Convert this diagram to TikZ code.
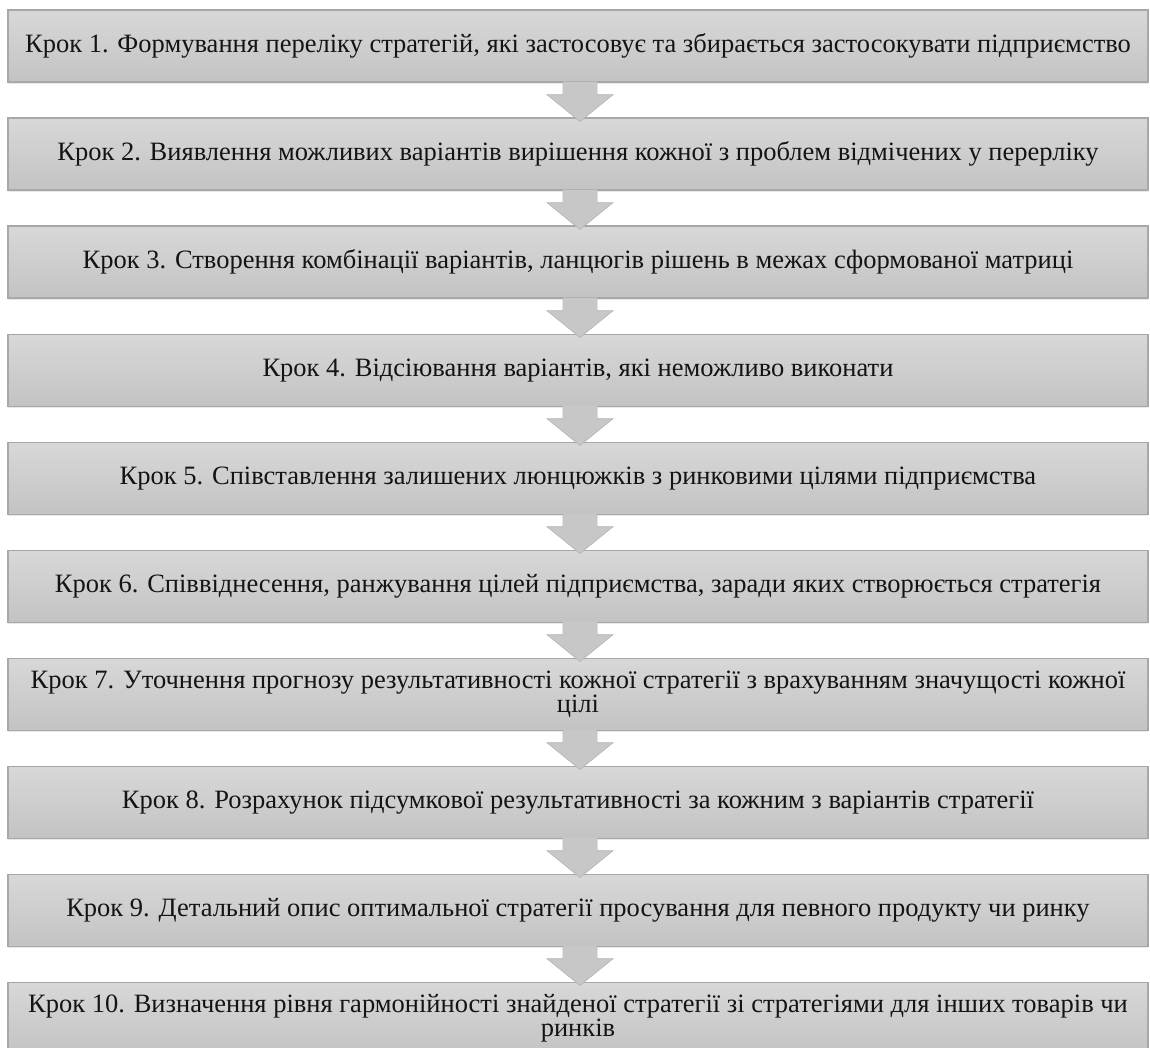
\documentclass[tikz,border=0pt]{standalone}
\usepackage{fontspec}
\setmainfont{Liberation Serif}
\usetikzlibrary{calc,shadows}
\definecolor{boxtop}{HTML}{D8D8D8}
\definecolor{boxbot}{HTML}{C3C3C3}
\definecolor{boxline}{HTML}{A8A8A8}
\definecolor{arrowfill}{HTML}{C7C7C7}
\definecolor{arrowline}{HTML}{B4B4B4}
\definecolor{txt}{HTML}{141414}
\begin{document}
\begin{tikzpicture}[x=1pt,y=1pt,
  stepbox/.style={draw=boxline, line width=1.2pt,
    top color=boxtop, bottom color=boxbot,
    drop shadow={opacity=0.18, shadow xshift=0pt, shadow yshift=-1.5pt},
    minimum width=1140pt, minimum height=72pt, inner sep=0pt,
    align=center, font=\fontsize{26.5}{23}\selectfont, text=txt, anchor=north},
  blockarrow/.style={fill=arrowfill, draw=arrowline, line width=0.6pt, line join=miter}]
\clip (0,0) rectangle (1150,-1048);
\fill[white] (0,0) rectangle (1150,-1048);

% process steps, top to bottom
\node[stepbox] (s1)  at (578,-9.5)   {Крок 1. Формування переліку стратегій, які застосовує та збирається застосокувати підприємство};
\node[stepbox] (s2)  at (578,-117.5) {Крок 2. Виявлення можливих варіантів вирішення кожної з проблем відмічених у перерліку};
\node[stepbox] (s3)  at (578,-225.5) {Крок 3. Створення комбінації варіантів, ланцюгів рішень в межах сформованої матриці};
\node[stepbox] (s4)  at (578,-333.5) {Крок 4. Відсіювання варіантів, які неможливо виконати};
\node[stepbox] (s5)  at (578,-441.5) {Крок 5. Співставлення залишених люнцюжків з ринковими цілями підприємства};
\node[stepbox] (s6)  at (578,-549.5) {Крок 6. Співвіднесення, ранжування цілей підприємства, заради яких створюється стратегія};
\node[stepbox] (s7)  at (578,-657.5) {Крок 7. Уточнення прогнозу результативності кожної стратегії з врахуванням значущості кожної\\цілі};
\node[stepbox] (s8)  at (578,-765.5) {Крок 8. Розрахунок підсумкової результативності за кожним з варіантів стратегії};
\node[stepbox] (s9)  at (578,-873.5) {Крок 9. Детальний опис оптимальної стратегії просування для певного продукту чи ринку};
\node[stepbox] (s10) at (578,-981.5) {Крок 10. Визначення рівня гармонійності знайденої стратегії зі стратегіями для інших товарів чи\\ринків};

% block arrows between consecutive steps
\foreach \a/\b in {s1/s2,s2/s3,s3/s4,s4/s5,s5/s6,s6/s7,s7/s8,s8/s9,s9/s10}{
  \path[blockarrow]
    ([shift={(-15,1)}]\a.south) -- ([shift={(-15,-12)}]\a.south)
    -- ([shift={(-31,-12)}]\a.south) -- ([shift={(2,-4)}]\b.north)
    -- ([shift={(35,-12)}]\a.south) -- ([shift={(19,-12)}]\a.south)
    -- ([shift={(19,1)}]\a.south);
  \fill[arrowfill] ([shift={(-14.7,1)}]\a.south) rectangle ([shift={(18.7,-12.3)}]\a.south);
}
\end{tikzpicture}
\end{document}
